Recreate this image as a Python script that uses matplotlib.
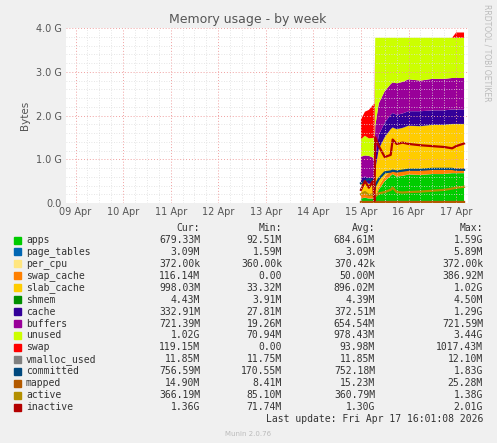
import matplotlib
matplotlib.use("Agg")
import matplotlib.pyplot as plt
import numpy as np

# hours from 15 Apr 00:00
t = [0, 2, 4, 6, 6.8, 7.2, 9, 12, 15, 16, 18, 21, 24, 30, 36, 42, 46, 48, 52]
apps =       [0.10,0.12,0.10,0.10,0.08,0.10,0.30,0.50,0.62,0.66,0.60,0.62,0.65,0.64,0.66,0.66,0.68,0.68,0.68]
page_tables = [0.003]*19
per_cpu =    [0.0004]*19
swap_cache = [0.08,0.10,0.08,0.08,0.06,0.05,0.08,0.10,0.11,0.11,0.11,0.11,0.11,0.11,0.12,0.12,0.12,0.12,0.12]
slab_cache = [0.25,0.28,0.25,0.28,0.25,0.60,0.85,0.90,0.95,0.95,0.97,0.98,1.00,1.00,1.00,1.00,1.00,1.00,1.00]
shmem =      [0.004]*19
cache =      [0.12,0.10,0.12,0.12,0.12,0.30,0.32,0.33,0.33,0.33,0.33,0.33,0.33,0.34,0.33,0.33,0.33,0.33,0.33]
buffers =    [0.50,0.48,0.52,0.45,0.45,0.70,0.72,0.72,0.70,0.70,0.72,0.72,0.73,0.70,0.72,0.72,0.72,0.72,0.72]
unused =     [0.40,0.45,0.40,0.45,0.50,2.02,1.50,1.22,1.06,1.02,1.04,1.01,0.95,0.98,0.94,0.94,0.92,0.92,0.92]
swap =       [0.45,0.55,0.65,0.75,0.80,0.0,0.0,0.0,0.0,0.0,0.0,0.0,0.0,0.0,0.0,0.0,0.0,0.12,0.12]
vmalloc_used = [0.012]*19
committed =  [0.45,0.50,0.55,0.50,0.30,0.40,0.55,0.70,0.72,0.74,0.72,0.74,0.76,0.76,0.78,0.78,0.78,0.76,0.76]
mapped =     [0.015]*19
active =     [0.20,0.25,0.18,0.20,0.10,0.15,0.22,0.25,0.30,0.35,0.25,0.24,0.25,0.26,0.28,0.30,0.33,0.35,0.37]
inactive =   [0.30,0.50,0.35,0.50,0.05,1.50,1.30,1.05,1.10,1.45,1.35,1.38,1.35,1.32,1.30,1.28,1.25,1.30,1.36]

names = ["apps","page_tables","per_cpu","swap_cache","slab_cache","shmem","cache","buffers","unused","swap",
         "vmalloc_used","committed","mapped","active","inactive"]
colors = ["#00CC00","#0066B3","#FFE680","#FF8000","#FFCC00","#008F00","#330099","#990099","#CCFF00","#FF0000",
          "#808080","#00487D","#B35A00","#B38F00","#B30000"]
cur = ["679.33M","3.09M","372.00k","116.14M","998.03M","4.43M","332.91M","721.39M","1.02G","119.15M","11.85M","756.59M","14.90M","366.19M","1.36G"]
mn  = ["92.51M","1.59M","360.00k","0.00","33.32M","3.91M","27.81M","19.26M","70.94M","0.00","11.75M","170.55M","8.41M","85.10M","71.74M"]
avg = ["684.61M","3.09M","370.42k","50.00M","896.02M","4.39M","372.51M","654.54M","978.43M","93.98M","11.85M","752.18M","15.23M","360.79M","1.30G"]
mx  = ["1.59G","5.89M","372.00k","386.92M","1.02G","4.50M","1.29G","721.59M","3.44G","1017.43M","12.10M","1.83G","25.28M","1.38G","2.01G"]

W, H = 497, 443
fig = plt.figure(figsize=(W/100, H/100), dpi=100, facecolor="#F0F0F0")
ax = fig.add_axes([66/W, 1-203/H, (468-66)/W, (203-28)/H], facecolor="white")

x = 6 + np.array(t)/24.0  # days since 09 Apr 00:00
stack = [apps, page_tables, per_cpu, swap_cache, slab_cache, shmem, cache, buffers, unused, swap]
ax.stackplot(x, *stack, colors=colors[:10], linewidth=0)
lines = [vmalloc_used, committed, mapped, active, inactive]
for v, c in zip(lines, colors[10:]):
    ax.plot(x, v, color=c, lw=1.6)

ax.set_xlim(-0.2, 8.21)
ax.set_ylim(0, 4.0)
days = np.arange(0, 9)
ax.set_xticks(days)
ax.set_xticklabels([f"{d:02d} Apr" for d in range(9, 18)])
ax.set_xticks(np.arange(-0.0, 8.3, 0.25), minor=True)
ax.set_yticks([0, 1, 2, 3, 4])
ax.set_yticklabels(["0.0", "1.0 G", "2.0 G", "3.0 G", "4.0 G"])
ax.set_yticks(np.arange(0, 4.01, 0.2), minor=True)
ax.grid(which="minor", color="#DDDDDD", ls=(0, (1, 2)), lw=0.6)
ax.grid(which="major", color="#F0A0A0", ls=(0, (1, 2)), lw=0.7)
ax.set_axisbelow(False)
ax.tick_params(which="both", length=0, labelsize=7, colors="#555555", pad=3)
for s in ax.spines.values():
    s.set_visible(False)
ax.set_ylabel("Bytes", fontsize=7.5, color="#555555")

fig.text(248/W, 1-19/H, "Memory usage - by week", ha="center", va="center", fontsize=9, color="#555555")
fig.text(487/W, 1-53/H, "RRDTOOL / TOBI OETIKER", rotation=270, ha="center", va="center", fontsize=5.5, color="#BBBBBB")

mono = "DejaVu Sans Mono"
fs = 7
y0 = 228
fig.text(200/W, 1-y0/H, "Cur:", ha="right", va="center", family=mono, fontsize=fs, color="#333333")
fig.text(282/W, 1-y0/H, "Min:", ha="right", va="center", family=mono, fontsize=fs, color="#333333")
fig.text(375/W, 1-y0/H, "Avg:", ha="right", va="center", family=mono, fontsize=fs, color="#333333")
fig.text(483/W, 1-y0/H, "Max:", ha="right", va="center", family=mono, fontsize=fs, color="#333333")
for i, n in enumerate(names):
    yy = 1 - (240 + i*11.93)/H
    fig.patches.append(plt.Rectangle((14/W, yy-3.5/H), 7/W, 7/H, transform=fig.transFigure, color=colors[i]))
    fig.text(26/W, yy, n, ha="left", va="center", family=mono, fontsize=fs, color="#333333")
    fig.text(200/W, yy, cur[i], ha="right", va="center", family=mono, fontsize=fs, color="#333333")
    fig.text(282/W, yy, mn[i], ha="right", va="center", family=mono, fontsize=fs, color="#333333")
    fig.text(375/W, yy, avg[i], ha="right", va="center", family=mono, fontsize=fs, color="#333333")
    fig.text(483/W, yy, mx[i], ha="right", va="center", family=mono, fontsize=fs, color="#333333")
fig.text(483/W, 1-419/H, "Last update: Fri Apr 17 16:01:08 2026", ha="right", va="center", family=mono, fontsize=fs, color="#333333")
fig.text(248/W, 1-434/H, "Munin 2.0.76", ha="center", va="center", fontsize=5, color="#BBBBBB")

fig.savefig("out.png", dpi=100, facecolor=fig.get_facecolor())
